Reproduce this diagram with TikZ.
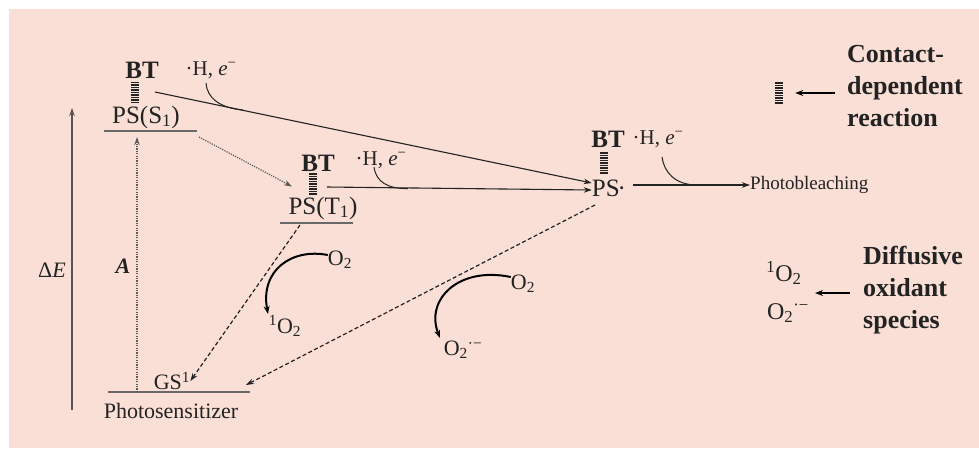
\documentclass[tikz,border=0pt]{standalone}
\usepackage{fontspec}
\setmainfont{Liberation Serif}
\usetikzlibrary{arrows.meta}
\definecolor{bgpink}{RGB}{249,223,213}
\definecolor{ink}{RGB}{35,35,35}
\definecolor{lvl}{RGB}{105,105,105}
\definecolor{dotc}{RGB}{90,90,90}
\tikzset{
  lbl/.style={inner sep=0pt, text=ink},
  big/.style={lbl, font=\fontsize{25}{30}\selectfont},
  mid/.style={lbl, font=\fontsize{22}{26}\selectfont},
  hfont/.style={lbl, font=\fontsize{21}{25}\selectfont},
  sml/.style={lbl, font=\fontsize{19}{23}\selectfont},
  legtext/.style={lbl, anchor=west, align=left, font=\fontsize{26}{32}\selectfont\bfseries},
  hatchbox/.style={minimum width=8pt, minimum height=22pt, inner sep=0pt,
    path picture={\foreach \k in {0,...,8}{
      \fill[ink] ([yshift=-\k*2.5pt-0.4pt]path picture bounding box.north west)
        rectangle ([yshift=-\k*2.5pt-1.7pt]path picture bounding box.north east);}}},
  level/.style={draw=lvl, line width=1.3pt},
  arrtip/.style={-{Stealth[length=8pt,width=5.5pt]}},
  arr/.style={arrtip, draw=ink, line width=1.1pt},
  axisarr/.style={arrtip, draw=lvl!80!black, line width=1.6pt},
  dotarr/.style={arrtip, draw=dotc, line width=1.2pt, dash pattern=on 1.2pt off 1.2pt},
  dasharr/.style={arrtip, draw=ink, line width=1.2pt, dash pattern=on 4pt off 2.5pt},
  curveline/.style={draw=ink, line width=1pt},
  oxarrow/.style={-{Stealth[length=8pt,width=6pt]}, draw=black, line width=2pt},
  legarr/.style={-{Stealth[length=8pt,width=6pt]}, draw=black, line width=2pt},
}
\newcommand{\superox}{O\textsubscript{2}\textsuperscript{·−}}
\begin{document}
\begin{tikzpicture}[x=1pt, y=-1pt]
\useasboundingbox (0,0) rectangle (979,448);
\fill[bgpink] (9,9) rectangle (979,448);

% energy axis and excitation
\coordinate (eBot) at (72,410);
\coordinate (eTop) at (72,108);
\draw[axisarr] (eBot) -- (eTop);
\node[mid] (dE) at (52,270) {Δ\textit{E}};

% ground state
\coordinate (gsL) at (108,392);
\coordinate (gsR) at (250,392);
\draw[level] (gsL) -- (gsR);
\node[mid] (gs) at (172,381) {GS\textsuperscript{1}};
\node[mid] (photos) at (171,411) {Photosensitizer};

% singlet
\coordinate (s1L) at (104,131);
\coordinate (s1R) at (197,131);
\draw[level] (s1L) -- (s1R);
\node[big] (ps1) at (146,117) {PS(S\textsubscript{1})};
\node[big, font=\fontsize{25}{30}\selectfont\bfseries] (bt1) at (142,70) {BT};
\node[hatchbox] (h1) at (135,92.5) {};
\node[hfont] (hh1) at (211,70) {·H, \textit{e}\textsuperscript{−}};

% absorption
\coordinate (aBot) at (137,392);
\coordinate (aTop) at (137,137);
\draw[dotarr] (aBot) -- (aTop);
\node[mid, font=\fontsize{22}{26}\selectfont\bfseries\itshape] (A) at (123,266) {A};

% triplet
\coordinate (t1L) at (280,223);
\coordinate (t1R) at (353,223);
\draw[level] (t1L) -- (t1R);
\node[big] (ps2) at (323,208) {PS(T\textsubscript{1})};
\node[big, font=\fontsize{25}{30}\selectfont\bfseries] (bt2) at (318,163) {BT};
\node[hatchbox] (h2) at (313,184) {};
\node[hfont] (hh2) at (381,160) {·H, \textit{e}\textsuperscript{−}};

% radical
\node[big] (psr) at (609,188) {PS\kern-0.08em·};
\node[big, font=\fontsize{25}{30}\selectfont\bfseries] (bt3) at (608,139) {BT};
\node[hatchbox] (h3) at (604,163) {};
\node[hfont] (hh3) at (658,139) {·H, \textit{e}\textsuperscript{−}};
\node[sml, anchor=west] (pb) at (750,185) {Photobleaching};

% intersystem crossing
\coordinate (iscS) at (199,137);
\draw[dotarr] (iscS) -- ([xshift=-31pt,yshift=10pt]ps2.north);

% BT reactions
\coordinate (l1s) at (155,92);
\draw[arr] (l1s) -- ([yshift=5pt]psr.west);
\draw[curveline] (206,83) .. controls (207,98) and (220,108) .. (243,110);
\coordinate (l2s) at (327,187);
\draw[arr] (l2s) -- ([yshift=-2pt]psr.west);
\draw[curveline] (374,167) .. controls (376,182) and (388,189) .. (408,188.5);
\coordinate (l3s) at (633,185);
\draw[arr] (l3s) -- (pb.west);
\draw[curveline] (662,157) .. controls (664,172) and (675,185) .. (697,185);

% decay to ground state
\coordinate (d1s) at (300,225);
\draw[dasharr] (d1s) -- (gs.east);
\coordinate (d2s) at (595,205);
\coordinate (d2e) at (246,385);
\draw[dasharr] (d2s) -- (d2e);

% oxygen reactions
\node[mid] (o2a) at (340,260) {O\textsubscript{2}};
\node[mid] (so2) at (285,326) {\textsuperscript{1}O\textsubscript{2}};
\draw[oxarrow] ([yshift=5pt]o2a.west) .. controls (292,248) and (260,270) .. (268,314);
\node[mid] (o2b) at (523,284) {O\textsubscript{2}};
\node[mid] (supox) at (463,350) {\superox};
\draw[oxarrow] ([yshift=7pt]o2b.west) .. controls (458,266) and (425,300) .. (440,338);

% legend
\node[hatchbox] (h4) at (779,93) {};
\coordinate (la1) at (835,93);
\draw[legarr] (la1) -- ([xshift=12pt]h4.east);
\node[legtext] (leg1) at (847,86) {Contact-\\dependent\\reaction};
\node[lbl, font=\fontsize{24}{28}\selectfont] (lso2) at (784,273) {\textsuperscript{1}O\textsubscript{2}};
\node[lbl, font=\fontsize{24}{28}\selectfont] (lsup) at (788,313) {\superox};
\coordinate (la2) at (850,293);
\draw[legarr] (la2) -- (815,293);
\node[legtext] (leg2) at (863,290) {Diffusive\\oxidant\\species};
\end{tikzpicture}
\end{document}
